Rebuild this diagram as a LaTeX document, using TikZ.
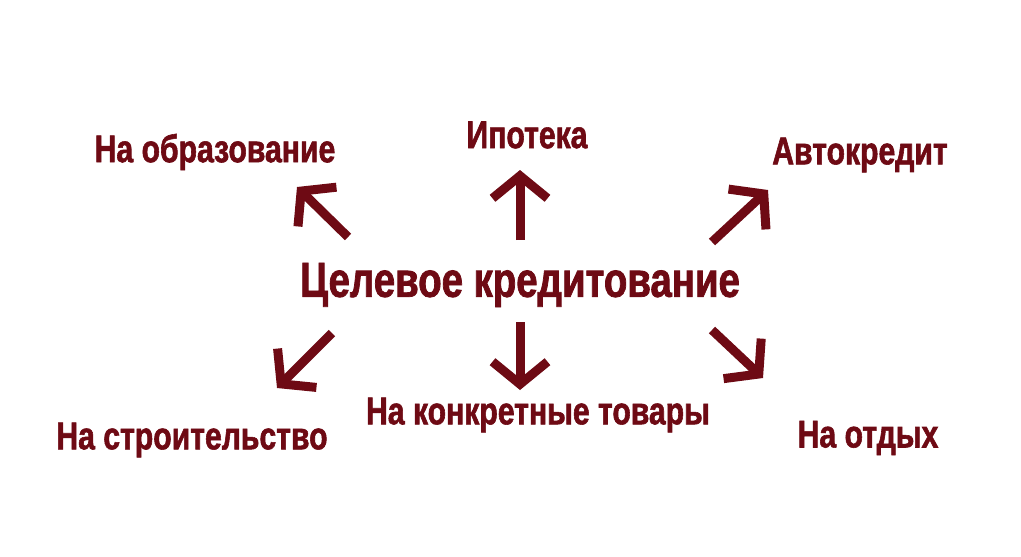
\documentclass[tikz,border=0pt]{standalone}
\usepackage{fontspec}
\setmainfont{Liberation Sans}[FakeStretch=0.78,FakeBold=1.5]
\usetikzlibrary{arrows.meta}
\definecolor{wine}{HTML}{6E0A14}
\tikzset{
  lbl/.style={text=wine, font=\fontsize{22}{24}\selectfont\bfseries, inner sep=0pt},
  bigarrow/.style={wine, line width=0.18cm, -{Straight Barb[length=0.45cm,width=1.1cm]}}
}
\begin{document}
\begin{tikzpicture}[x=0.02cm,y=-0.02cm]
    \useasboundingbox (0,0) rectangle (1021,556);
    % labels
    \node[lbl, font=\fontsize{28}{30}\selectfont\bfseries] (main) at (520,285) {Целевое кредитование};
    \node[lbl] (educ) at (215,152) {На образование};
    \node[lbl] (mortg) at (527,135) {Ипотека};
    \node[lbl] (auto) at (860,155) {Автокредит};
    \node[lbl] (build) at (192,440) {На строительство};
    \node[lbl] (goods) at (538,415) {На конкретные товары};
    \node[lbl] (rest) at (868,438) {На отдых};
    % arrow ends
    \coordinate (educ0) at (348,237); \coordinate (educ1) at (297,187);
    \coordinate (mortg0) at (520,240); \coordinate (mortg1) at (520,170);
    \coordinate (auto0) at (712,242); \coordinate (auto1) at (768,190);
    \coordinate (build0) at (332,333); \coordinate (build1) at (277,388);
    \coordinate (goods0) at (520,322); \coordinate (goods1) at (520,390);
    \coordinate (rest0) at (712,330); \coordinate (rest1) at (763,378);
    % arrows
    \foreach \t in {educ,mortg,auto,build,goods,rest}
        \draw[bigarrow] (\t0) -- (\t1);
\end{tikzpicture}
\end{document}
